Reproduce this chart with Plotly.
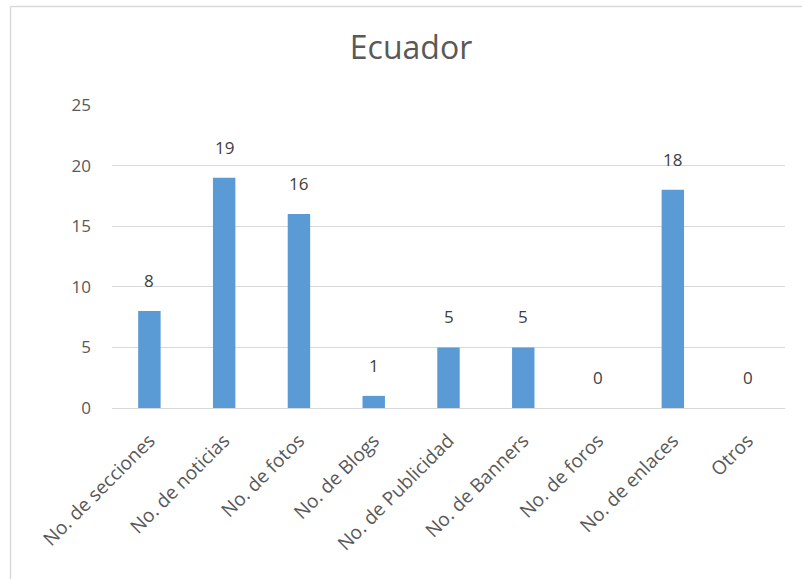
import plotly.graph_objects as go

categories = ["No. de secciones", "No. de noticias", "No. de fotos", "No. de Blogs",
              "No. de Publicidad", "No. de Banners", "No. de foros", "No. de enlaces", "Otros"]
values = [8, 19, 16, 1, 5, 5, 0, 18, 0]
y_ticks = [0, 5, 10, 15, 20, 25]

W, H = 802, 579
ML, MR, MT, MB = 112, 17, 105, 171
PW, PH = W - ML - MR, H - MT - MB

BAR = "#5b9bd5"
TXT = "#595959"
GRID = "#d9d9d9"
FONT = "Open Sans"


def px_x(px):
    return (px - ML) / PW


def px_y(py):
    return (H - MB - py) / PH


fig = go.Figure()
fig.add_trace(go.Bar(x=categories, y=values, marker=dict(color=BAR, line=dict(width=0)),
                     hoverinfo="x+y"))

# value labels above each bar
for c, v in zip(categories, values):
    fig.add_annotation(x=c, y=v, text=str(v), showarrow=False, yanchor="bottom",
                       yshift=17, font=dict(family=FONT, size=17, color="#404040"))

# chart frame (top and left edges)
fig.add_shape(type="line", xref="paper", yref="paper", x0=px_x(10.5), x1=px_x(802),
              y0=px_y(6.5), y1=px_y(6.5), line=dict(color=GRID, width=1.5))
fig.add_shape(type="line", xref="paper", yref="paper", x0=px_x(10.5), x1=px_x(10.5),
              y0=px_y(6.5), y1=px_y(579), line=dict(color=GRID, width=1.5))

fig.update_layout(
    width=W, height=H,
    margin=dict(l=ML, r=MR, t=MT, b=MB),
    paper_bgcolor="white", plot_bgcolor="white",
    showlegend=False,
    bargap=0.7,
    title=dict(text="Ecuador", x=411 / W, xref="container", xanchor="center",
               y=1 - 48 / H, yref="container", yanchor="middle",
               font=dict(family=FONT, size=32, color=TXT)),
    font=dict(family=FONT, color=TXT),
    xaxis=dict(tickangle=-45, tickfont=dict(family=FONT, size=19, color=TXT),
               showgrid=False, showline=True, linecolor=GRID, linewidth=1,
               ticks="", ticklabelstandoff=13),
    yaxis=dict(range=[0, 25], tickvals=y_ticks, showgrid=True, gridcolor=GRID, gridwidth=1,
               zeroline=True, zerolinecolor=GRID, zerolinewidth=1, showline=False,
               tickfont=dict(family=FONT, size=17, color=TXT), ticks="",
               ticklabelstandoff=20),
)

fig.write_html("out.html")
